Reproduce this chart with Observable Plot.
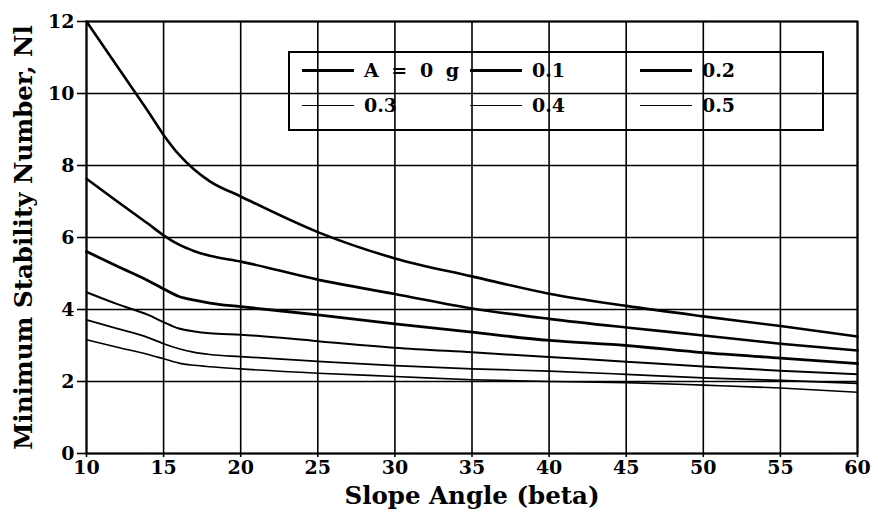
<!DOCTYPE html>
<html>
<head>
<meta charset="utf-8">
<script src="https://cdn.jsdelivr.net/npm/d3@7"></script>
<script src="https://cdn.jsdelivr.net/npm/@observablehq/plot@0.6"></script>
<style>
  html, body { margin: 0; padding: 0; background: #fff; }
  #wrap { position: relative; width: 878px; height: 524px; }
  #chart svg { font-family: "DejaVu Serif", serif; }
  #chart g[aria-label="x-axis tick label"] text,
  #chart g[aria-label="y-axis tick label"] text { font-weight: bold; font-size: 19px; }
  #chart g[aria-label="x-axis label"] text,
  #chart g[aria-label="y-axis label"] text { font-size: 24.5px; font-weight: bold; }
  #legend { position: absolute; left: 288px; top: 51px; width: 532px; height: 76px;
            border: 2px solid #000; font-family: "DejaVu Serif", serif; font-size: 19px; font-weight: bold; }
  .item { position: absolute; display: flex; align-items: center; height: 24px; white-space: pre; }
  .item.first { word-spacing: 6px; }
  .swatch { display: inline-block; width: 52px; border-top: 3px solid #000; margin-right: 10px; }
  .swatch.thin { border-top-width: 1.6px; }
</style>
</head>
<body>
<div id="wrap">
  <div id="chart"></div>
  <div id="legend"></div>
</div>
<script>
const betas = [10, 12, 14, 15, 16, 17, 18, 20, 25, 30, 35, 40, 45, 50, 55, 60];
const seriesNames = ["A = 0 g", "0.1", "0.2", "0.3", "0.4", "0.5"];
const a0  = [12.0, 10.75, 9.5, 8.85, 8.3, 7.88, 7.56, 7.14, 6.15, 5.42, 4.92, 4.44, 4.1, 3.81, 3.54, 3.25];
const a01 = [7.63, 7.0, 6.38, 6.06, 5.8, 5.62, 5.49, 5.33, 4.83, 4.43, 4.03, 3.74, 3.5, 3.28, 3.05, 2.86];
const a02 = [5.61, 5.2, 4.8, 4.57, 4.36, 4.26, 4.18, 4.08, 3.85, 3.6, 3.37, 3.14, 3.0, 2.8, 2.65, 2.5];
const a03 = [4.48, 4.15, 3.85, 3.65, 3.47, 3.39, 3.34, 3.3, 3.12, 2.94, 2.81, 2.68, 2.55, 2.42, 2.3, 2.2];
const a04 = [3.71, 3.47, 3.22, 3.05, 2.91, 2.81, 2.75, 2.69, 2.56, 2.44, 2.35, 2.29, 2.2, 2.1, 2.03, 1.95];
const a05 = [3.16, 2.95, 2.75, 2.63, 2.51, 2.45, 2.41, 2.35, 2.23, 2.14, 2.05, 2.0, 1.97, 1.9, 1.82, 1.7];
const xTicks = [10, 15, 20, 25, 30, 35, 40, 45, 50, 55, 60];
const yTicks = [0, 2, 4, 6, 8, 10, 12];

const allSeries = [a0, a01, a02, a03, a04, a05];
const widths = [2.6, 2.6, 2.8, 2.0, 1.7, 1.6];

const lineMarks = allSeries.map((vals, i) =>
  Plot.line(betas.map((b, j) => ({beta: b, n: vals[j]})), {
    x: "beta", y: "n", stroke: "#000", strokeWidth: widths[i], curve: "monotone-x"
  })
);

const chart = Plot.plot({
  width: 878,
  height: 524,
  marginLeft: 86,
  marginRight: 21,
  marginTop: 21,
  marginBottom: 71,
  x: {domain: [10, 60]},
  y: {domain: [0, 12]},
  marks: [
    Plot.gridX(xTicks, {stroke: "#000", strokeOpacity: 1, strokeWidth: 1.6}),
    Plot.gridY(yTicks, {stroke: "#000", strokeOpacity: 1, strokeWidth: 1.6}),
    Plot.axisX(xTicks, {tickSize: 4, tickPadding: 3, stroke: "#000", strokeWidth: 1.6,
      label: "Slope Angle (beta)", labelAnchor: "center", labelArrow: "none", labelOffset: 50, fill: "#000"}),
    Plot.axisY(yTicks, {tickSize: 9, tickPadding: 3, stroke: "#000", strokeWidth: 1.6,
      label: "Minimum Stability Number, Nl", labelAnchor: "center", labelArrow: "none", labelOffset: 72, fill: "#000"}),
    ...lineMarks,
    Plot.frame({stroke: "#000", strokeWidth: 2})
  ]
});
document.getElementById("chart").appendChild(chart);

// legend
const legend = document.getElementById("legend");
const cols = [12, 180, 350];
const rows = [5, 40];
seriesNames.forEach((name, i) => {
  const item = document.createElement("div");
  item.className = "item" + (i === 0 ? " first" : "");
  item.style.left = cols[i % 3] + "px";
  item.style.top = rows[Math.floor(i / 3)] + "px";
  const sw = document.createElement("span");
  sw.className = "swatch" + (i >= 3 ? " thin" : "");
  const t = document.createElement("span");
  t.textContent = name;
  item.appendChild(sw);
  item.appendChild(t);
  legend.appendChild(item);
});
</script>
</body>
</html>
